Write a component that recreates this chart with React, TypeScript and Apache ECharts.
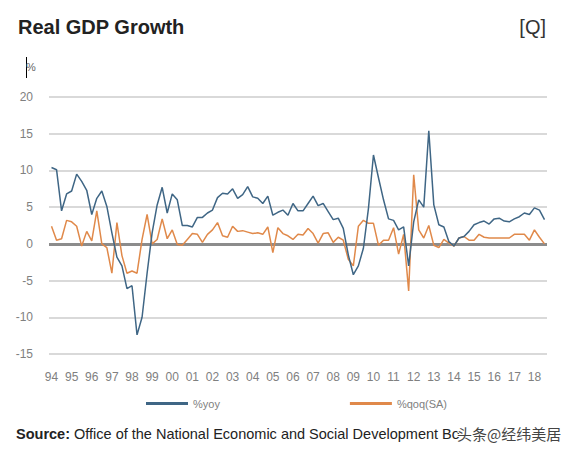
import React, { useEffect, useRef } from "react";
import * as echarts from "echarts";

const yearLabels = ["94","95","96","97","98","99","00","01","02","03","04","05","06","07","08","09","10","11","12","13","14","15","16","17","18"];
const quartersInLastYear = 3;

const yoy = [
  10.4, 10.1, 4.5, 6.8, 7.2, 9.5, 8.5, 7.3, 4.0, 6.2,
  7.2, 5.1, 1.5, -1.8, -3.0, -6.1, -5.7, -12.4, -10.0, -4.0,
  1.5, 5.3, 7.7, 4.2, 6.8, 6.0, 2.5, 2.5, 2.3, 3.6,
  3.6, 4.2, 4.6, 6.3, 6.9, 6.8, 7.5, 6.2, 6.7, 7.8,
  6.4, 6.2, 5.5, 6.5, 3.9, 4.3, 4.6, 3.9, 5.5, 4.5,
  4.5, 5.5, 6.5, 5.2, 5.5, 4.4, 3.3, 3.5, 2.1, -1.5,
  -4.2, -3.0, -0.6, 4.8, 12.1, 9.0, 6.0, 3.4, 3.2, 1.9,
  2.3, -3.0, 3.0, 6.0, 5.0, 15.4, 5.3, 2.6, 2.3, 0.3,
  -0.3, 0.8, 1.0, 1.7, 2.6, 2.9, 3.1, 2.7, 3.4, 3.5,
  3.1, 3.0, 3.4, 3.7, 4.2, 4.0, 4.9, 4.6, 3.3,
];

const qoqSA = [
  2.4, 0.5, 0.7, 3.2, 3.0, 2.4, -0.3, 1.7, 0.4, 4.5,
  0.0, -0.5, -4.0, 2.9, -1.6, -4.0, -3.7, -4.0, 0.6, 4.0,
  0.0, 0.6, 3.4, 0.7, 1.9, -0.1, -0.2, 0.6, 1.4, 1.3,
  0.2, 1.3, 1.9, 2.9, 1.1, 0.9, 2.4, 1.7, 1.8, 1.6,
  1.4, 1.5, 1.3, 2.3, -1.2, 2.2, 1.4, 1.1, 0.6, 1.3,
  1.2, 2.1, 1.4, 0.1, 1.4, 1.5, 0.2, 0.9, 0.5, -2.1,
  -3.0, 2.4, 3.2, 2.8, 2.8, -0.2, 0.5, 0.5, 2.2, -1.4,
  1.3, -6.4, 9.4, 1.9, 0.8, 2.5, -0.2, -0.5, 0.6, 0.1,
  -0.3, 0.8, 1.0, 0.5, 0.5, 1.3, 0.9, 0.8, 0.8, 0.8,
  0.8, 0.8, 1.3, 1.3, 1.3, 0.5, 1.9, 0.9, 0.0,
];

const yTicks = { min: -15, max: 20, interval: 5 };

const categories: string[] = [];
yearLabels.forEach((y, yi) => {
  const nq = yi === yearLabels.length - 1 ? quartersInLastYear : 4;
  for (let q = 1; q <= nq; q++) categories.push(y + "Q" + q);
});

const BLUE = "#3f6685";
const ORANGE = "#e0894a";

export default function App() {
  const ref = useRef<HTMLDivElement>(null);
  useEffect(() => {
    if (!ref.current) return;
    const chart = echarts.init(ref.current, undefined, { renderer: "svg" });
    chart.setOption({
      animation: false,
      backgroundColor: "#ffffff",
      textStyle: { fontFamily: "Liberation Sans, Arial, sans-serif" },
      grid: { left: 49, right: 29, top: 97, bottom: 101, containLabel: false },
      legend: {
        left: 141,
        top: 393,
        itemWidth: 42,
        itemHeight: 3,
        itemGap: 130,
        icon: "rect",
        textStyle: { color: "#808080", fontSize: 11, fontFamily: "Liberation Sans, Arial, sans-serif" },
        data: ["%yoy", "%qoq(SA)"],
      },
      xAxis: {
        type: "category",
        data: categories,
        boundaryGap: true,
        axisLine: { show: false },
        axisTick: { show: false },
        axisLabel: {
          interval: 3,
          margin: 17,
          color: "#808080",
          fontSize: 12,
          formatter: (v: string) => v.slice(0, 2),
        },
        splitLine: { show: false },
      },
      yAxis: {
        type: "value",
        min: yTicks.min,
        max: yTicks.max,
        interval: yTicks.interval,
        axisLine: { show: false },
        axisTick: { show: false },
        axisLabel: { color: "#808080", fontSize: 12, margin: 16 },
        splitLine: { lineStyle: { color: "#d9d9d9", width: 2 } },
      },
      series: [
        {
          name: "%yoy",
          type: "line",
          data: yoy,
          symbol: "none",
          lineStyle: { color: BLUE, width: 1.5 },
          itemStyle: { color: BLUE },
          z: 3,
          markLine: {
            silent: true,
            symbol: "none",
            label: { show: false },
            lineStyle: { color: "#8c8c8c", width: 3, type: "solid" },
            data: [{ yAxis: 0 }],
            z: 1,
          },
        },
        {
          name: "%qoq(SA)",
          type: "line",
          data: qoqSA,
          symbol: "none",
          lineStyle: { color: ORANGE, width: 1.5 },
          itemStyle: { color: ORANGE },
          z: 2,
        },
      ],
      graphic: [
        {
          type: "text",
          left: 18,
          top: 17,
          style: { text: "Real GDP Growth", fill: "#222222", font: "bold 20px 'Liberation Sans', Arial, sans-serif" },
        },
        {
          type: "text",
          right: 30,
          top: 17,
          style: { text: "[Q]", fill: "#333333", font: "20px 'Liberation Sans', Arial, sans-serif" },
        },
        {
          type: "line",
          shape: { x1: 26.5, y1: 57, x2: 26.5, y2: 78 },
          style: { stroke: "#000000", lineWidth: 1 },
        },
        {
          type: "text",
          left: 26,
          top: 61,
          style: { text: "%", fill: "#666666", font: "11px 'Liberation Sans', Arial, sans-serif" },
        },
        {
          type: "text",
          left: 16,
          top: 426,
          style: {
            text: "{b|Source:} Office of the National Economic and Social Development Bo",
            fill: "#222222",
            font: "14.5px 'Liberation Sans', Arial, sans-serif",
            rich: {
              b: { fontWeight: "bold", fontSize: 14.5, fill: "#222222", fontFamily: "Liberation Sans, Arial, sans-serif" },
            },
          },
        },
        {
          type: "text",
          left: 456,
          top: 425,
          style: {
            text: "头条@经纬美居",
            fill: "#444444",
            stroke: "#ffffff",
            lineWidth: 2,
            font: "15px 'Noto Sans CJK SC', sans-serif",
          },
        },
      ],
    });
    return () => chart.dispose();
  }, []);
  return <div ref={ref} style={{ width: 576, height: 455, margin: -8 }} />;
}
